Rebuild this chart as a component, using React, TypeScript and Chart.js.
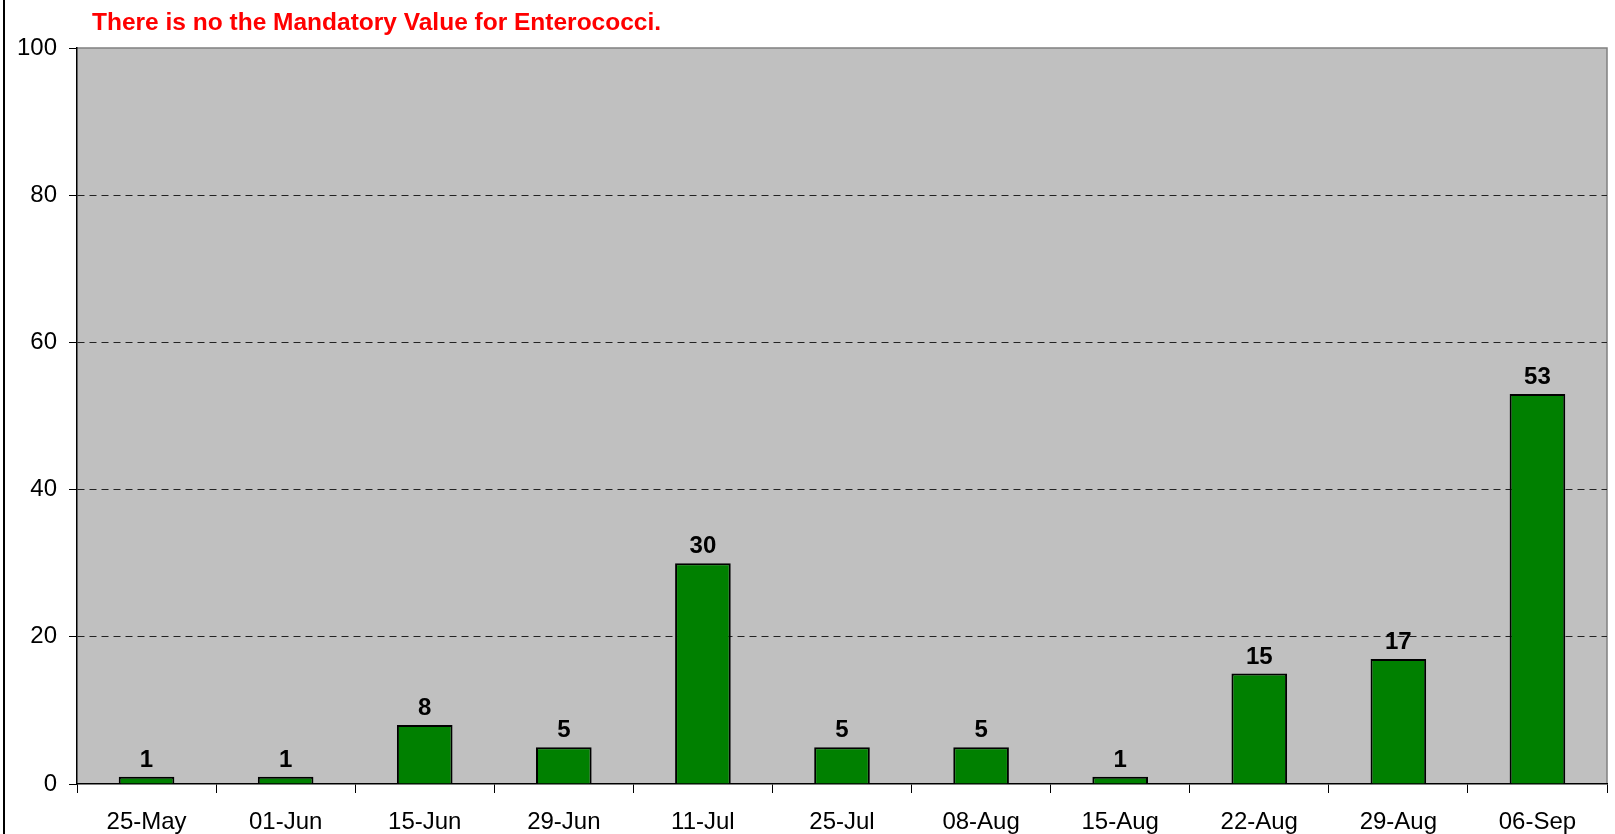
import React, { useEffect, useRef } from 'react';
import { Chart, registerables } from 'chart.js';

Chart.register(...registerables);

const categories = ['25-May', '01-Jun', '15-Jun', '29-Jun', '11-Jul', '25-Jul', '08-Aug', '15-Aug', '22-Aug', '29-Aug', '06-Sep'];
const enterococci = [1, 1, 8, 5, 30, 5, 5, 1, 15, 17, 53];
const yTickValues = [0, 20, 40, 60, 80, 100];
const titleText = 'There is no the Mandatory Value for Enterococci.';

const FONT = 'Arial, "Liberation Sans", sans-serif';

export default function App() {
  const ref = useRef<HTMLCanvasElement>(null);

  useEffect(() => {
    document.body.style.margin = '0';
    const canvas = ref.current;
    if (!canvas) return;

    const plotBg = {
      id: 'plotBg',
      beforeDraw(chart: any) {
        const { ctx, chartArea } = chart;
        const { left, top, right, bottom } = chartArea;
        ctx.save();
        ctx.fillStyle = '#C0C0C0';
        ctx.fillRect(left, top, right - left, bottom - top);
        ctx.strokeStyle = '#808080';
        ctx.lineWidth = 1.5;
        ctx.beginPath();
        ctx.moveTo(left, top);
        ctx.lineTo(right, top);
        ctx.lineTo(right, bottom);
        ctx.stroke();
        ctx.fillStyle = '#000';
        ctx.fillRect(3, 0, 2, chart.height);
        ctx.restore();
      },
    };

    const titlePlugin = {
      id: 'titleText',
      afterDraw(chart: any) {
        const { ctx } = chart;
        ctx.save();
        ctx.font = `bold 24.5px ${FONT}`;
        ctx.fillStyle = '#FF0000';
        ctx.textAlign = 'left';
        ctx.textBaseline = 'alphabetic';
        ctx.fillText(titleText, 92, 30);
        ctx.restore();
      },
    };

    const valueLabels = {
      id: 'valueLabels',
      afterDatasetsDraw(chart: any) {
        const { ctx } = chart;
        const meta = chart.getDatasetMeta(0);
        ctx.save();
        ctx.font = `bold 24px ${FONT}`;
        ctx.fillStyle = '#000';
        ctx.textAlign = 'center';
        ctx.textBaseline = 'alphabetic';
        meta.data.forEach((bar: any, i: number) => {
          ctx.fillText(String(enterococci[i]), bar.x, bar.y - 10);
        });
        ctx.restore();
      },
    };

    const chart = new Chart(canvas, {
      type: 'bar',
      data: {
        labels: categories,
        datasets: [
          {
            label: 'Enterococci',
            data: enterococci,
            backgroundColor: '#008000',
            borderColor: '#000000',
            borderWidth: 2,
            barPercentage: 0.4,
            categoryPercentage: 1,
          },
        ],
      },
      options: {
        responsive: false,
        maintainAspectRatio: false,
        animation: false,
        devicePixelRatio: 1,
        layout: { padding: { top: 48, right: 8, left: 0, bottom: 0 } },
        plugins: {
          legend: { display: false },
          tooltip: { enabled: false },
          title: { display: false },
        },
        scales: {
          x: {
            grid: {
              offset: true,
              drawOnChartArea: false,
              drawTicks: true,
              tickLength: 9,
              tickColor: '#000',
              tickWidth: 1,
            },
            border: { display: true, color: '#000', width: 1.5 },
            ticks: {
              color: '#000',
              font: { family: FONT, size: 24 },
              padding: 15,
              maxRotation: 0,
              autoSkip: false,
            },
            afterFit(scale: any) {
              scale.height = 50;
            },
          },
          y: {
            min: 0,
            max: 100,
            afterBuildTicks(scale: any) {
              scale.ticks = yTickValues.map((v) => ({ value: v }));
            },
            grid: {
              color: (c: any) =>
                c.tick && (c.tick.value === 0 || c.tick.value === 100) ? 'rgba(0,0,0,0)' : '#222',
              lineWidth: 1,
              tickLength: 8,
              tickColor: '#000',
              tickWidth: 1,
              tickBorderDash: [],
            },
            border: { display: true, color: '#000', width: 1.5, dash: [7, 5] },
            ticks: {
              color: '#000',
              font: { family: FONT, size: 24 },
              padding: 12,
            },
            afterFit(scale: any) {
              scale.width = 77;
            },
          },
        },
      },
      plugins: [plotBg, valueLabels, titlePlugin],
    });

    return () => chart.destroy();
  }, []);

  return <canvas ref={ref} width={1615} height={834} style={{ display: 'block', width: 1615, height: 834 }} />;
}
